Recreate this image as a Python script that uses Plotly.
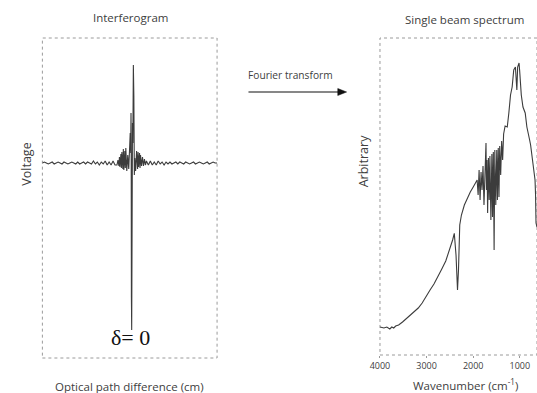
import plotly.graph_objects as go

# ---------------- Data ----------------
# Interferogram: optical path difference (arbitrary units, centred at delta=0) vs voltage
opd_left = [-91, -89, -87, -85, -83, -81, -79, -77, -75, -73, -71, -69, -67, -65, -63,
            -61, -59, -57, -55, -53, -51, -49, -47, -45, -43, -41, -39, -37, -35, -33,
            -31, -29, -27, -25, -23, -21, -19, -17]
volt_left = [0, 1, 0, -1, 0, 1, -1, 0, 1, 0, -1, 1, 0, -1, 0,
             1, 0, -1, 1, -1, 0, 1, -1, 1, 0, -1, 2, -1, 1, -2,
             1, -1, 2, -2, 1, -2, 2, -2]
opd_centre = [-15, -14, -13, -12.5, -12, -11, -10.5, -10, -9, -8.5, -8, -7, -6.5, -6,
              -5, -4, -3, -2.5, -2, -1.5, -1, -0.7, -0.5, -0.3, -0.15, 0, 0.3, 0.8,
              1.2, 1.7, 2.2, 2.7, 3.2, 4, 5, 6, 6.5, 7, 8, 8.5, 9, 10, 11, 12, 13, 14, 15]
volt_centre = [-2, 3, -3, 6, -4, 9, -5, 11, -6, 14, -7, 12, -5, 15,
               -8, 8, -6, 12, 4, 30, 10, 50, 20, -134, -60, -167, -20, 40,
               20, 98, 67, -12, 5, -8, 12, -6, 11, -4, 10, -5, 8, -3, 6, -3, 4, -2, 2]
opd_right = [17, 19, 21, 23, 25, 27, 29, 31, 33, 35, 37, 39, 41, 43, 45, 47, 49, 51,
             53, 55, 57, 59, 61, 63, 65, 67, 69, 71, 73, 75, 77, 79, 81, 83, 85, 87]
volt_right = [-2, 2, -2, 1, -2, 2, -1, 1, -2, 1, -1, 1, -1, 0, 1, -1, 1, 0,
              -1, 1, 0, -1, 0, 1, -1, 0, 1, 0, -1, 0, 1, -1, 0, 1, 0, 0]

# Single beam spectrum: wavenumber (cm-1) vs arbitrary intensity
wavenumber = [4000, 3916, 3853, 3789, 3747, 3705, 3663, 3600, 3516, 3432, 3347, 3263,
              3179, 3095, 3011, 2926, 2842, 2758, 2674, 2589, 2505, 2442, 2406, 2369,
              2337, 2316, 2289, 2253, 2190, 2126, 2063, 2000, 1958, 1916,
              1895, 1874, 1853, 1832, 1811, 1790, 1769, 1748, 1726, 1716, 1705, 1691,
              1674, 1657, 1642, 1621, 1600, 1586, 1569, 1552, 1537, 1516, 1495, 1480,
              1463, 1447, 1432, 1411, 1390, 1369, 1348,
              1316, 1270, 1236, 1200, 1165, 1131, 1095, 1074, 1064, 1047, 1017, 1005,
              990, 969, 933, 916, 885, 849, 815, 790, 769, 744, 716, 695, 674, 663,
              653, 632]
intensity = [28, 27, 28, 26, 28, 27, 29, 30, 33, 37, 40, 43.5,
             47, 52, 59, 65, 71, 78, 86, 94, 105, 115, 121.7, 100,
             65, 85, 130, 140, 150, 157, 163, 168, 172, 175,
             160, 185, 155, 183, 165, 189, 150, 190, 212, 165, 195, 142,
             197, 155, 199, 135, 201, 138, 203, 105, 205, 150, 205, 155,
             207, 158, 209, 180, 214, 195, 221,
             229, 228, 242, 260, 268, 285, 288, 275, 265, 288, 292, 285,
             272, 260, 248, 245, 242, 228, 222, 215, 210, 202, 190, 183, 175, 160,
             132, 128]

wn_ticks = [4000, 3000, 2000, 1000]

# ---------------- Figure ----------------
W, H = 537, 393
def px(x):
    return x / W
def py(y):
    return 1 - y / H

line_col = "#3c3c3c"
txt_col = "#404040"
font_family = "Open Sans, Noto Sans, DejaVu Sans, sans-serif"

fig = go.Figure()
fig.add_trace(go.Scatter(x=opd_left + opd_centre + opd_right,
                         y=volt_left + volt_centre + volt_right, mode="lines",
                         line=dict(color=line_col, width=1.1),
                         xaxis="x", yaxis="y", showlegend=False, hoverinfo="skip"))
fig.add_trace(go.Scatter(x=wavenumber, y=intensity, mode="lines",
                         line=dict(color=line_col, width=1.1),
                         xaxis="x2", yaxis="y2", showlegend=False, hoverinfo="skip"))

L = dict(x0=33, x1=211, y0=38, y1=358)
R = dict(x0=377, x1=537, y0=38, y1=355)

fig.update_layout(
    width=W, height=H,
    margin=dict(l=0, r=0, t=0, b=0),
    paper_bgcolor="white", plot_bgcolor="white",
    font=dict(family=font_family, size=11, color=txt_col),
    xaxis=dict(domain=[px(L["x0"]), px(L["x1"])], range=[-91, 87],
               showgrid=False, zeroline=False, showticklabels=False, ticks="",
               showline=False, fixedrange=True),
    yaxis=dict(domain=[py(L["y1"]), py(L["y0"])], range=[-195, 125],
               showgrid=False, zeroline=False, showticklabels=False, ticks="",
               showline=False, fixedrange=True),
    xaxis2=dict(domain=[px(R["x0"]), 1.0], range=[4000, 632], anchor="y2",
                showgrid=False, zeroline=False, showline=False,
                tickvals=wn_ticks, ticktext=[str(v) for v in wn_ticks],
                ticks="outside", ticklen=2, tickcolor="#999",
                tickfont=dict(size=9, color=txt_col), fixedrange=True),
    yaxis2=dict(domain=[py(R["y1"]), py(R["y0"])], range=[0, 317], anchor="x2",
                showgrid=False, zeroline=False, showticklabels=False, ticks="",
                showline=False, fixedrange=True),
)

# dotted frames
for b in (L, R):
    fig.add_shape(type="rect", xref="paper", yref="paper",
                  x0=px(b["x0"]), x1=px(b["x1"]), y0=py(b["y1"]), y1=py(b["y0"]),
                  line=dict(color="#9a9a9a", width=1, dash="dot"), layer="below")

def txt(x, y, s, size=11.5, angle=0, fam=font_family, col=txt_col):
    fig.add_annotation(xref="paper", yref="paper", x=px(x), y=py(y), text=s,
                       showarrow=False, xanchor="center", yanchor="middle",
                       textangle=angle, font=dict(size=size, family=fam, color=col))

txt(123, 18, "Interferogram")
txt(463, 19, "Single beam spectrum")
txt(17, 164, "Voltage", size=12.5, angle=-90)
txt(360, 161, "Arbitrary", size=12.5, angle=-90)
txt(122, 386, "Optical path difference (cm)")
txt(464, 384, "Wavenumber (cm<sup>-1</sup>)")
txt(286, 75, "Fourier transform", size=10.2)
txt(123, 337, "δ= 0", size=22, fam="Liberation Serif, Times New Roman, serif", col="#111")

# arrow (shaft + head)
fig.add_shape(type="line", xref="paper", yref="paper",
              x0=px(243), x1=px(336), y0=py(92), y1=py(92),
              line=dict(color="#111", width=1.2))
fig.add_shape(type="path", xref="paper", yref="paper",
              path=f"M {px(343)} {py(92)} L {px(334)} {py(88.5)} L {px(334)} {py(95.5)} Z",
              fillcolor="#111", line=dict(color="#111", width=0.5))

fig.write_html("out.html", config={"displayModeBar": False},
               post_script="document.body.style.margin='0';document.body.style.overflow='hidden';")
